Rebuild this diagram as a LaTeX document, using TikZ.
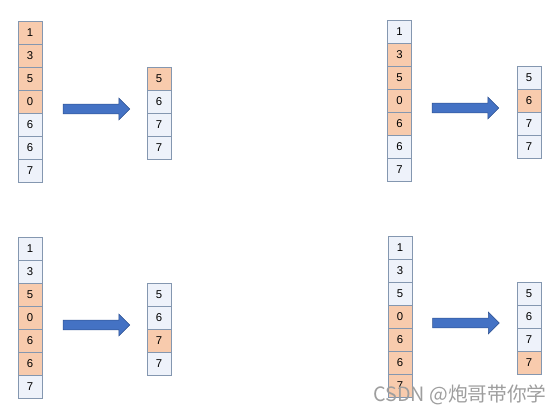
\documentclass[tikz,border=0pt]{standalone}
\usepackage{fontspec}
\setmainfont{Liberation Sans}
\newfontfamily\cjkfont{Noto Sans CJK SC}
\usetikzlibrary{shapes.arrows}

\definecolor{hot}{HTML}{F8CBAD}
\definecolor{cold}{HTML}{EEF2FA}
\definecolor{rim}{HTML}{8497B0}
\definecolor{pushfill}{HTML}{4472C4}
\definecolor{pushrim}{HTML}{2F528F}

\tikzset{
  cell/.style={rectangle, draw=rim, line width=0.6pt, minimum width=18pt,
    minimum height=17.25pt, inner sep=0pt, font=\fontsize{8.5}{9}\selectfont},
  push/.style={single arrow, draw=pushrim, fill=pushfill, line width=0.5pt,
    minimum height=50pt, inner xsep=1pt, inner ysep=3.4pt,
    single arrow head extend=4.5pt}
}

\begin{document}
\begin{tikzpicture}[x=0.75pt, y=-0.75pt]
\useasboundingbox (0, 0) rectangle (560, 413);

% top left
\foreach \v/\c [count=\i] in {1/hot, 3/hot, 5/hot, 0/hot, 6/cold, 6/cold, 7/cold}
  \node[cell, fill=\c] (a\i) at (30, {33+23*(\i-1)}) {\v};
\foreach \v/\c [count=\i] in {5/hot, 6/cold, 7/cold, 7/cold}
  \node[cell, fill=\c] (ra\i) at (159, {78.5+23*(\i-1)}) {\v};
\node[push] (pa) at (94, 109) {};

% top right
\foreach \v/\c [count=\i] in {1/cold, 3/hot, 5/hot, 0/hot, 6/hot, 6/cold, 7/cold}
  \node[cell, fill=\c] (b\i) at (399.5, {31.5+23*(\i-1)}) {\v};
\foreach \v/\c [count=\i] in {5/cold, 6/hot, 7/cold, 7/cold}
  \node[cell, fill=\c] (rb\i) at (529, {77.5+23*(\i-1)}) {\v};
\node[push] (pb) at (463, 108) {};

% bottom left
\foreach \v/\c [count=\i] in {1/cold, 3/cold, 5/hot, 0/hot, 6/hot, 6/hot, 7/cold}
  \node[cell, fill=\c] (c\i) at (30, {248.5+23*(\i-1)}) {\v};
\foreach \v/\c [count=\i] in {5/cold, 6/cold, 7/hot, 7/cold}
  \node[cell, fill=\c] (rc\i) at (159, {294.5+23*(\i-1)}) {\v};
\node[push] (pc) at (94, 325) {};

% bottom right
\foreach \v/\c [count=\i] in {1/cold, 3/cold, 5/cold, 0/hot, 6/hot, 6/hot, 7/hot}
  \node[cell, fill=\c] (d\i) at (400, {247.5+23*(\i-1)}) {\v};
\foreach \v/\c [count=\i] in {5/cold, 6/cold, 7/cold, 7/hot}
  \node[cell, fill=\c] (rd\i) at (529, {293.5+23*(\i-1)}) {\v};
\node[push] (pd) at (463.5, 323) {};

\node[anchor=west, inner sep=0pt, text=black!38,
  font=\cjkfont\fontsize{14.8}{16}\selectfont] (mark) at (373, 395) {CSDN @炮哥带你学};

\end{tikzpicture}
\end{document}
